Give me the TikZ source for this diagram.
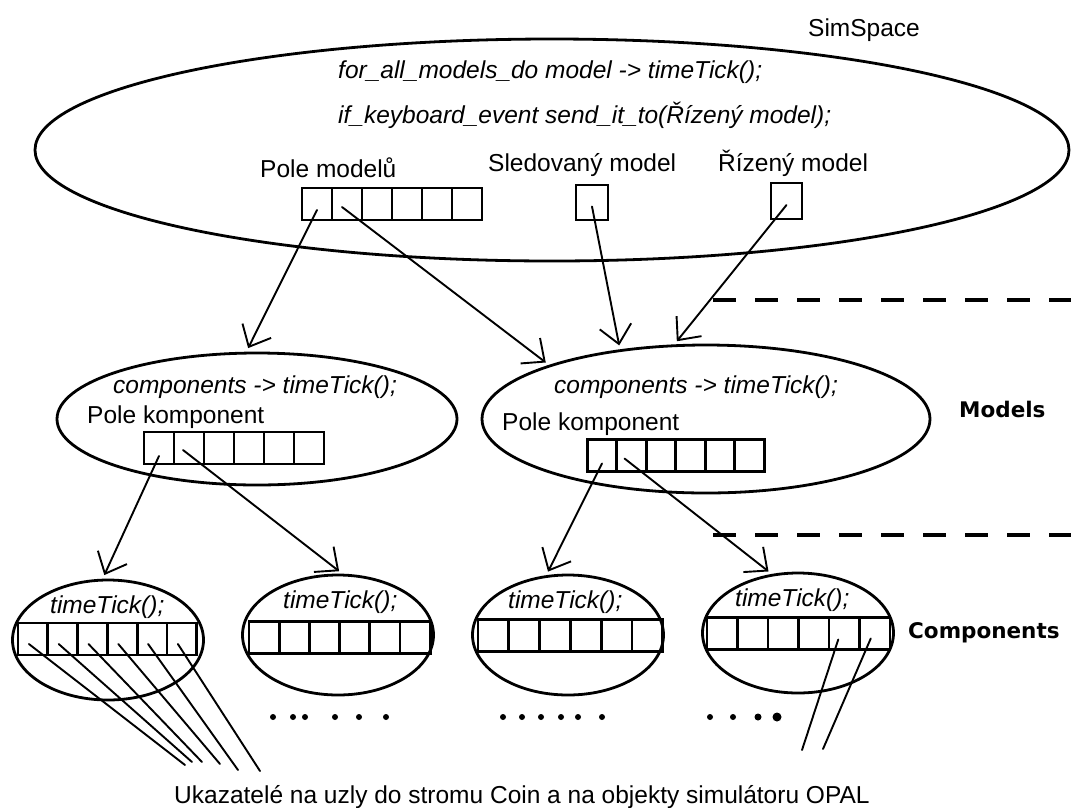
\documentclass[tikz,border=0pt]{standalone}
\usepackage{fontspec}
\setmainfont{Liberation Sans}
\newfontfamily\layerfont{DejaVu Sans}
\usetikzlibrary{arrows.meta,shapes.geometric,positioning,calc}

\begin{document}
\begin{tikzpicture}[
    x=1pt, y=-1pt,
    >={Straight Barb[length=18pt,width=32pt]},
    txt/.style={inner sep=0, anchor=base west, font=\fontsize{24.5}{28}\selectfont},
    codetxt/.style={txt, font=\fontsize{24.5}{28}\selectfont\itshape},
    layername/.style={inner sep=0, anchor=base west, font=\layerfont\bfseries\fontsize{21.5}{25}\selectfont},
    simspace/.style={draw, ellipse, line width=2.8pt, inner sep=0, minimum width=1034pt, minimum height=222pt},
    model/.style={draw, ellipse, line width=2.8pt, inner sep=0},
    component/.style={draw, ellipse, line width=2.8pt, inner sep=0, minimum width=191pt, minimum height=120pt},
    cellbox/.style={draw, line width=2.8pt, inner sep=0, minimum width=30pt, minimum height=32pt},
    pointer/.style={->, line width=1.9pt, line cap=round, shorten >=4pt},
    link/.style={line width=1.9pt, line cap=round},
    separator/.style={line width=3.5pt, dash pattern=on 23pt off 19pt}
]
\useasboundingbox (0,0) rectangle (1071,807);

% SimSpace
\node[simspace] (sim) at (552,150) {};
\node[txt] (simname) at (808,36) {SimSpace};
\node[codetxt] (loop) at (338,78) {for\_all\_models\_do model -> timeTick();};
\node[codetxt] (kbd) at (338,123) {if\_keyboard\_event send\_it\_to(Řízený model);};
\node[txt] (polemodelu) at (260,177) {Pole modelů};
\foreach \i in {0,...,5} \node[cellbox] (pm\i) at ({317+30*\i},204) {};
\node[txt] (sledlabel) at (488,171) {Sledovaný model};
\node[cellbox, minimum width=32pt, minimum height=35pt] (sled) at (592,202.5) {};
\node[txt] (rizlabel) at (718,171) {Řízený model};
\node[cellbox, minimum width=31pt, minimum height=36pt] (riz) at (786.5,201) {};

% models
\node[model, minimum width=400pt, minimum height=132pt] (mL) at (257,419) {};
\node[model, minimum width=448pt, minimum height=148pt] (mR) at (706,419) {};
\node[codetxt] (mLcode) at (113,393) {components -> timeTick();};
\node[txt] (mLpole) at (87,423) {Pole komponent};
\node[codetxt] (mRcode) at (554,393) {components -> timeTick();};
\node[txt] (mRpole) at (502,430) {Pole komponent};
\foreach \i in {0,...,5} \node[cellbox] (kL\i) at ({159+30*\i},448) {};
\foreach \i in {0,...,5} \node[cellbox, minimum width=29.5pt] (kR\i) at ({602+29.5*\i},455.5) {};

% components
\foreach \n/\cx/\cy in {1/108/640, 2/338/635, 3/568/635, 4/798/633}
    \node[component] (c\n) at (\cx,\cy) {};
\foreach \n/\x/\y/\w in {1/18/639/29.8, 2/249/637.5/30.2, 3/478/635.5/30.8, 4/707/633.5/30.5}
    \foreach \i in {0,...,5}
        \node[cellbox, minimum width=\w pt] (k\n\i) at ({\x+\w/2+\w*\i},\y) {};
\node[codetxt] (tick1) at (50,613) {timeTick();};
\node[codetxt] (tick2) at (283,608) {timeTick();};
\node[codetxt] (tick3) at (508,608) {timeTick();};
\node[codetxt] (tick4) at (735,606) {timeTick();};

\node[layername] (models) at (959,417) {Models};
\node[layername] (components) at (908,638) {Components};
\node[txt] (note) at (174,803) {Ukazatelé na uzly do stromu Coin a na objekty simulátoru OPAL};

\draw[separator] (713,300) -- (1071,300);
\draw[separator] (713,535) -- (1071,535);

% references
\draw[pointer] ([yshift=-6pt]pm0.center) -- (mL.99);
\draw[pointer] ([shift={(-5pt,-3pt)}]pm1.center) -- (mR.161);
\draw[pointer] ([yshift=-4pt]sled.center) -- (mR.141);
\draw[pointer] ([yshift=-4pt]riz.center) -- (mR.113);
\draw[pointer] ([yshift=-8pt]kL0.center) -- (c1.95);
\draw[pointer] ([shift={(-6pt,-2pt)}]kL1.center) -- (c2.86);
\draw[pointer] ([yshift=-8pt]kR0.center) -- (c3.110);
\draw[pointer] ([shift={(-7pt,-3pt)}]kR1.center) -- (c4.114);

\foreach \i/\ex/\ey in {0/185/765, 1/192/762, 2/202/762, 3/220/764, 4/238/770, 5/260/771} {
    \coordinate (end\i) at (\ex,\ey);
    \draw[link] ([shift={(-4pt,-5pt)}]k1\i.center) -- (end\i);
}
\coordinate (endA) at (802,750);
\coordinate (endB) at (823,749);
\draw[link] ([shift={(-6pt,-6pt)}]k44.center) -- (endA);
\draw[link] ([shift={(-4pt,-5pt)}]k45.center) -- (endB);

% dots
\foreach \x in {273,293,305,335,359,386} \fill (\x,717) circle (3pt);
\foreach \x in {503,522,541,561,578,602} \fill (\x,717) circle (3pt);
\foreach \x/\r in {710/3, 733/3, 758/3.5, 777/4.5} \fill (\x,717) circle (\r pt);

\end{tikzpicture}
\end{document}
